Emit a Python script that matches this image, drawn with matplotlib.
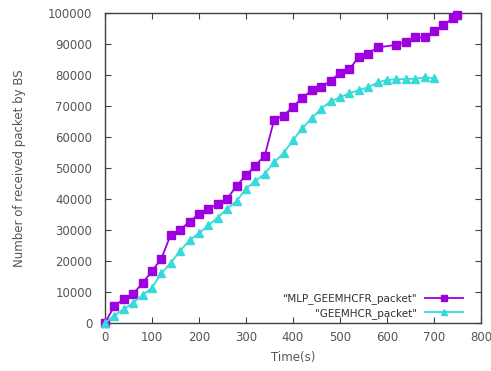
import matplotlib
matplotlib.use("Agg")
import matplotlib.pyplot as plt

# time axis (s), points every 20 s
time_mlp = [0, 20, 40, 60, 80, 100, 120, 140, 160, 180, 200, 220, 240, 260,
            280, 300, 320, 340, 360, 380, 400, 420, 440, 460, 480, 500, 520,
            540, 560, 580, 620, 640, 660, 680, 700, 720, 740, 750]
mlp_packet = [0, 5500, 7700, 9400, 12900, 16700, 20800, 28500, 30100, 32700,
              35200, 36900, 38300, 40000, 44300, 47600, 50800, 54000, 65600,
              66900, 69800, 72600, 75100, 76200, 78100, 80700, 81800, 85900,
              86900, 88900, 89700, 90700, 92100, 92100, 94200, 96000, 98400,
              99500]

time_geem = [0, 20, 40, 60, 80, 100, 120, 140, 160, 180, 200, 220, 240, 260,
             280, 300, 320, 340, 360, 380, 400, 420, 440, 460, 480, 500, 520,
             540, 560, 580, 600, 620, 640, 660, 680, 700]
geem_packet = [0, 2400, 4500, 6500, 9000, 11400, 16000, 19400, 23300, 26700,
               29000, 31500, 34000, 36900, 39300, 43300, 45800, 48100, 51900,
               54800, 59000, 62800, 66100, 69100, 71500, 72800, 74100, 75100,
               76000, 77600, 78400, 78600, 78700, 78800, 79200, 79000]

x_ticks = [0, 100, 200, 300, 400, 500, 600, 700, 800]
y_ticks = [0, 10000, 20000, 30000, 40000, 50000, 60000, 70000, 80000, 90000, 100000]

txt_color = "#555555"

fig = plt.figure(figsize=(4.91, 3.71), dpi=100)
ax = fig.add_axes([0.2138, 0.1294, 0.7658, 0.8356])

ax.plot(time_mlp, mlp_packet, color="#9c00e0", marker="s", markersize=5.5,
        linewidth=1.3, label="\u201cMLP_GEEMHCFR_packet\"", clip_on=False, zorder=3)
ax.plot(time_geem, geem_packet, color="#36dada", marker="^", markersize=5.5,
        linewidth=1.3, label="\"GEEMHCR_packet\"", clip_on=False, zorder=3)

ax.set_xlim(0, 800)
ax.set_ylim(0, 100000)
ax.set_xticks(x_ticks)
ax.set_yticks(y_ticks)
ax.tick_params(direction="in", top=True, right=True, length=4, width=0.8,
               color="#404040", labelcolor=txt_color, labelsize=8.5)
ax.tick_params(axis="y", pad=9)
ax.tick_params(axis="x", pad=6)
for s in ax.spines.values():
    s.set_color("#404040")
    s.set_linewidth(1.0)

ax.set_xlabel("Time(s)", color=txt_color, fontsize=8.5, labelpad=5)
ax.set_ylabel("Number of received packet by BS", color=txt_color, fontsize=8.5, labelpad=16)

leg = ax.legend(loc="lower right", bbox_to_anchor=(0.963, 0.0), frameon=False,
                markerfirst=False, fontsize=7.5, handlelength=3.6,
                labelspacing=0.35, borderaxespad=0.0, handletextpad=0.8,
                markerscale=0.9)
for t in leg.get_texts():
    t.set_color("#303030")

fig.savefig("out.png", dpi=100)
